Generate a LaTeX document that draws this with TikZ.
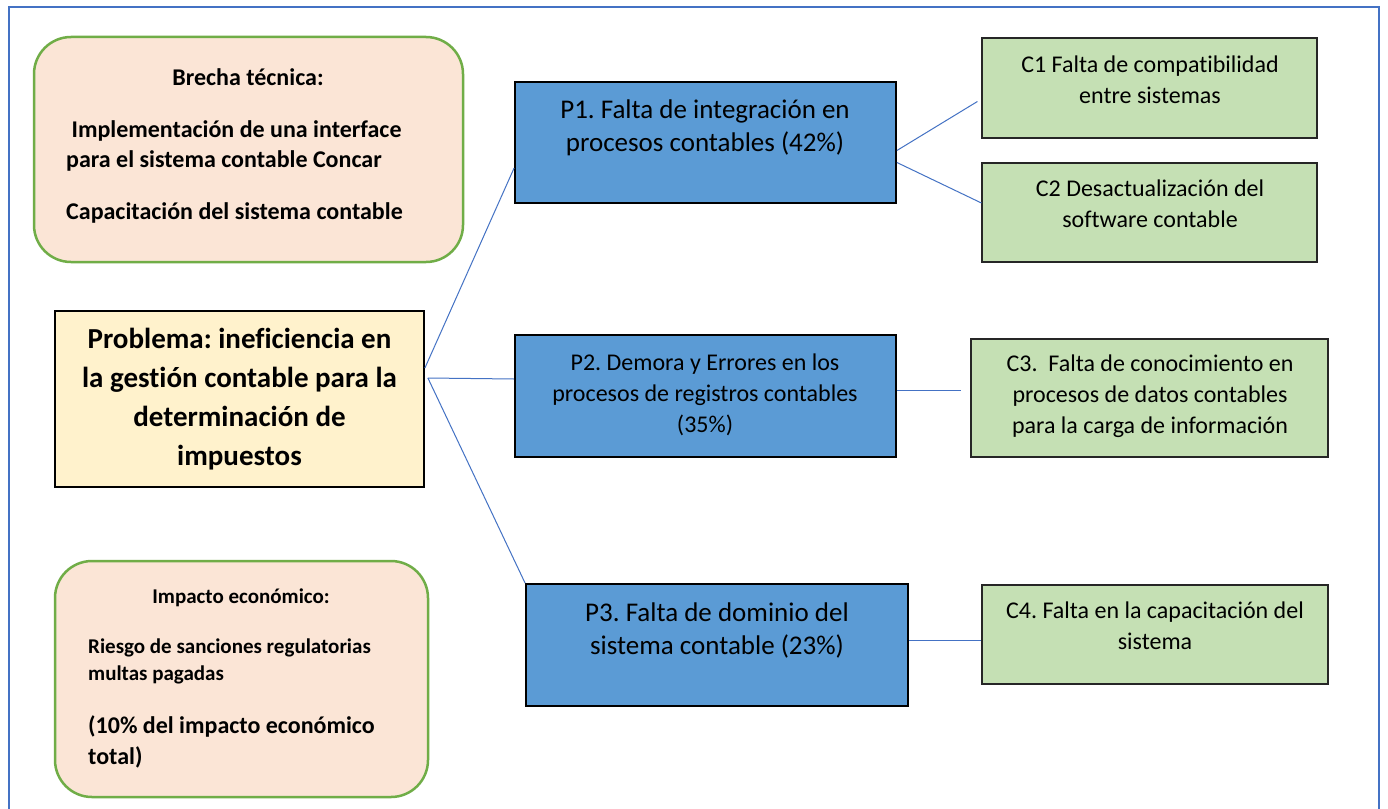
\documentclass[tikz,border=0pt]{standalone}
\usepackage{fontspec}
\setmainfont{Carlito}[Ligatures={TeX,NoCommon}]
\frenchspacing
\usetikzlibrary{calc}
\definecolor{framec}{HTML}{4472C4}
\definecolor{softfill}{HTML}{FBE5D6}
\definecolor{softdraw}{HTML}{70AD47}
\definecolor{probfill}{HTML}{FFF2CC}
\definecolor{pfill}{HTML}{5B9BD5}
\definecolor{cfill}{HTML}{C5E0B4}
\definecolor{linkc}{HTML}{4472C4}
\begin{document}
\begin{tikzpicture}[x=1pt,y=-1pt,
  softbox/.style={draw=softdraw, fill=softfill, line width=2.5pt, rounded corners=37pt, inner sep=0pt},
  probbox/.style={draw=black, fill=probfill, line width=1.8pt, inner sep=0pt},
  pbox/.style={draw=black, fill=pfill, line width=1.8pt, inner sep=0pt},
  cbox/.style={draw=black!85, fill=cfill, line width=1.2pt, inner sep=0pt},
  link/.style={draw=linkc, line width=1pt},
  ptext/.style={font=\fontsize{27}{33}\selectfont, align=center, inner sep=0pt},
  ptextsmall/.style={font=\fontsize{24}{31}\selectfont, align=center, inner sep=0pt},
  ctext/.style={font=\fontsize{24}{31}\selectfont, align=center, inner sep=0pt},
  probtext/.style={font=\fontsize{29}{39}\selectfont\bfseries, align=center, inner sep=0pt},
  softtext/.style={font=\fontsize{24}{30}\selectfont\bfseries, align=left, inner sep=0pt},
  imptext/.style={font=\fontsize{21}{27}\selectfont\bfseries, align=left, inner sep=0pt},
  impbig/.style={font=\fontsize{24}{31}\selectfont\bfseries, align=left, inner sep=0pt}
]
\useasboundingbox (0,0) rectangle (1388,808);
\fill[white] (0,0) rectangle (1388,808);
% outer frame
\draw[framec, line width=1.5pt] (9,812) -- (9,7) -- (1379,7) -- (1379,812);

% left boxes
\node[softbox, minimum width=429pt, minimum height=225pt] (brecha) at (248.5,149.5) {};
\node[softtext, align=center] (brechaT) at (248,77) {Brecha técnica:};
\node[softtext, anchor=west] (brechaA) at (66,146) {\ Implementación de una interface\\para el sistema contable Concar};
\node[softtext, anchor=west] (brechaB) at (66,213) {Capacitación del sistema contable};

\node[probbox, minimum width=369pt, minimum height=176pt] (prob) at (239.5,399) {};
\node[probtext] (probT) at (239.5,399) {Problema: ineficiencia en\\la gestión contable para la\\determinación de\\impuestos};

\node[softbox, minimum width=373pt, minimum height=236pt] (impacto) at (241.5,679) {};
\node[imptext, align=center] (impT) at (241,598) {Impacto económico:};
\node[imptext, anchor=west] (impA) at (88,661) {Riesgo de sanciones regulatorias\\multas pagadas};
\node[impbig, anchor=west] (impB) at (88,742) {(10\% del impacto económico\\total)};

% P boxes
\node[pbox, minimum width=381pt, minimum height=121pt] (p1) at (705.5,142.5) {};
\node[ptext] (p1T) at (705,128) {P1. Falta de integración en\\procesos contables (42\%)};
\node[pbox, minimum width=381pt, minimum height=122pt] (p2) at (705.5,396) {};
\node[ptextsmall] (p2T) at (705,394.5) {P2. Demora y Errores en los\\procesos de registros contables\\(35\%)};
\node[pbox, minimum width=382pt, minimum height=122pt] (p3) at (717,645) {};
\node[ptext] (p3T) at (717,630) {P3. Falta de dominio del\\sistema contable (23\%)};

% C boxes
\node[cbox, minimum width=335pt, minimum height=100pt] (c1) at (1149.5,88) {};
\node[ctext] (c1T) at (1150,80) {C1 Falta de compatibilidad\\entre sistemas};
\node[cbox, minimum width=335pt, minimum height=99pt] (c2) at (1149.5,212.5) {};
\node[ctext] (c2T) at (1150,204) {C2 Desactualización del\\software contable};
\node[cbox, minimum width=357pt, minimum height=118pt] (c3) at (1149.5,398) {};
\node[ctext] (c3T) at (1150,396) {C3.\ \ Falta de conocimiento en\\procesos de datos contables\\para la carga de información};
\node[cbox, minimum width=346pt, minimum height=99pt] (c4) at (1155,634.5) {};
\node[ctext] (c4T) at (1155,626) {C4. Falta en la capacitación del\\sistema};

% connectors
\draw[link] ([yshift=31pt]prob.east) -- ([yshift=-25.5pt]p1.west);
\draw[link] ([xshift=3pt,yshift=21pt]prob.east) -- ([yshift=17pt]p2.west);
\draw[link] ([xshift=3pt,yshift=21pt]prob.east) -- (p3.north west);
\draw[link] ([yshift=-8pt]p1.east) -- ([xshift=-4pt,yshift=-13.5pt]c1.west);
\draw[link] ([yshift=-20pt]p1.east) -- ([yshift=9.5pt]c2.west);
\draw[link] ([yshift=6pt]p2.east) -- ([xshift=-9pt,yshift=8pt]c3.west);
\draw[link] ([yshift=4.5pt]p3.east) -- ([yshift=-6pt]c4.west);
\end{tikzpicture}
\end{document}
